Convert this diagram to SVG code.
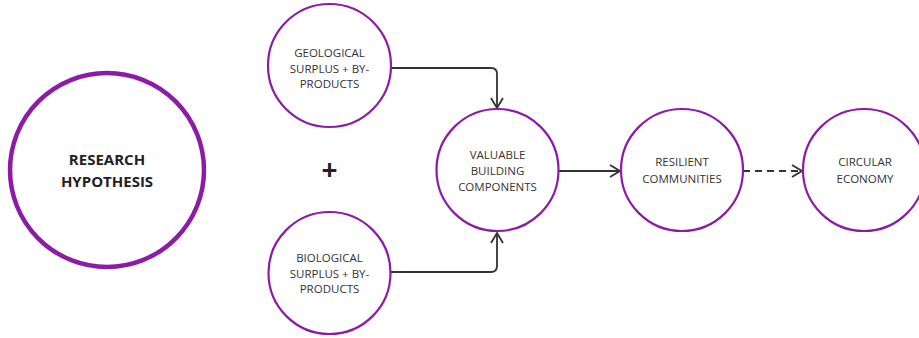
<svg xmlns="http://www.w3.org/2000/svg" width="919" height="338" viewBox="0 0 919 338">
<style>
.node{fill:#fff;stroke:#8c1ba8;stroke-width:2.2}
.big{fill:#fff;stroke:#8c1ba8;stroke-width:4.5}
.t{font-family:"Open Sans","DejaVu Sans",sans-serif;font-size:11.5px;fill:#333;text-anchor:middle}
.tb{font-family:"Open Sans","DejaVu Sans",sans-serif;font-size:15px;font-weight:bold;fill:#222;text-anchor:middle}
.c{fill:none;stroke:#333;stroke-width:1.8}
</style>
<defs>
<marker id="ah" viewBox="0 0 12 14" refX="11" refY="7" markerWidth="12" markerHeight="14" markerUnits="userSpaceOnUse" orient="auto">
<path d="M1 1 L11 7 L1 13" fill="none" stroke="#333" stroke-width="1.8"/>
</marker>
</defs>
<rect width="919" height="338" fill="#fff"/>
<g id="connectors">
<path class="c" d="M391 68 H491 Q497 68 497 74 V108" marker-end="url(#ah)"/>
<path class="c" d="M391 272 H491 Q497 272 497 266 V233" marker-end="url(#ah)"/>
<path class="c" d="M559 171 H620" marker-end="url(#ah)"/>
<path class="c" d="M743 171 H802" stroke-dasharray="7 5" marker-end="url(#ah)"/>
</g>
<g id="research">
<circle class="big" cx="107" cy="170" r="97"/>
<text class="tb" x="107" y="165">RESEARCH</text>
<text class="tb" x="107" y="187">HYPOTHESIS</text>
</g>
<g id="plus">
<text x="329.5" y="180" font-family="'Open Sans','DejaVu Sans',sans-serif" font-size="28" font-weight="bold" fill="#222" text-anchor="middle">+</text>
</g>
<g id="geological">
<circle class="node" cx="329.5" cy="65.5" r="61.5"/>
<text class="t" x="329.5" y="57">GEOLOGICAL</text>
<text class="t" x="329.5" y="73">SURPLUS + BY-</text>
<text class="t" x="329.5" y="88">PRODUCTS</text>
</g>
<g id="biological">
<circle class="node" cx="329.5" cy="273" r="61"/>
<text class="t" x="329.5" y="262">BIOLOGICAL</text>
<text class="t" x="329.5" y="278">SURPLUS + BY-</text>
<text class="t" x="329.5" y="293">PRODUCTS</text>
</g>
<g id="valuable">
<circle class="node" cx="497.5" cy="170" r="61"/>
<text class="t" x="497.5" y="159">VALUABLE</text>
<text class="t" x="497.5" y="175">BUILDING</text>
<text class="t" x="497.5" y="191">COMPONENTS</text>
</g>
<g id="resilient">
<circle class="node" cx="682" cy="170" r="61"/>
<text class="t" x="682" y="166">RESILIENT</text>
<text class="t" x="682" y="183">COMMUNITIES</text>
</g>
<g id="circular">
<circle class="node" cx="864" cy="170" r="61"/>
<text class="t" x="865" y="166">CIRCULAR</text>
<text class="t" x="865" y="183">ECONOMY</text>
</g>
</svg>
